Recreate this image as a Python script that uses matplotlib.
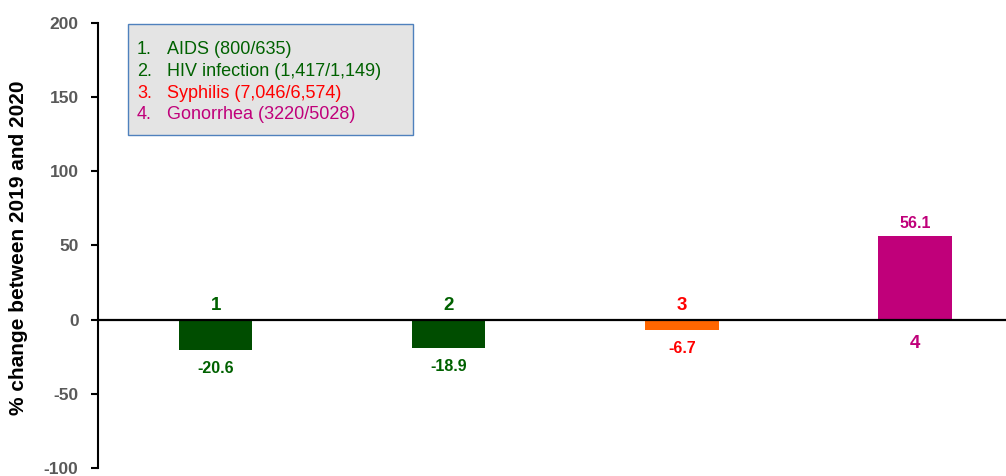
import matplotlib
matplotlib.use("Agg")
import matplotlib.pyplot as plt
from matplotlib.patches import Rectangle

plt.rcParams['font.family'] = ['Liberation Sans', 'DejaVu Sans']

categories = ["1", "2", "3", "4"]
values = [-20.6, -18.9, -6.7, 56.1]
value_labels = ["-20.6", "-18.9", "-6.7", "56.1"]
legend_lines = ["AIDS (800/635)", "HIV infection (1,417/1,149)",
                "Syphilis (7,046/6,574)", "Gonorrhea (3220/5028)"]
yticks = [-100, -50, 0, 50, 100, 150, 200]

bar_colors = ["#004D00", "#004D00", "#FF6600", "#C0007A"]
text_colors = ["#006100", "#006100", "#FF0000", "#C0007A"]

W, H = 1006, 476
fig = plt.figure(figsize=(W / 100, H / 100), dpi=100)
ax = fig.add_axes([0.0974, 0.0168, 0.9026, 0.9349])

x = list(range(len(categories)))
ax.bar(x, values, width=0.314, color=bar_colors, zorder=2)
ax.axhline(0, color="black", lw=1.6, zorder=3)

ax.set_xlim(-0.505, 3.39)
ax.set_ylim(-100, 200)
ax.set_yticks(yticks)
ax.set_yticklabels([str(t) for t in yticks], fontsize=12.5, fontweight="bold", color="#595959")
ax.tick_params(axis="y", direction="out", length=5, width=1.5, pad=9)
ax.set_xticks([])
for s in ["top", "right", "bottom"]:
    ax.spines[s].set_visible(False)
ax.spines["left"].set_linewidth(1.5)

ax.set_ylabel("% change between 2019 and 2020", fontsize=15, fontweight="bold")
ax.yaxis.set_label_coords((19 - 98) / (W * 0.9026), 0.495)
ax.yaxis.label.set_va("center")

for xi, v, lab, cat, tc in zip(x, values, value_labels, categories, text_colors):
    if v < 0:
        ax.annotate(cat, (xi, 0), xytext=(0, 4), textcoords="offset points",
                    ha="center", va="bottom", fontsize=13.5, fontweight="bold", color=tc)
        ax.annotate(lab, (xi, v), xytext=(0, -8), textcoords="offset points",
                    ha="center", va="top", fontsize=11.5, fontweight="bold", color=tc)
    else:
        ax.annotate(lab, (xi, v), xytext=(0, 4), textcoords="offset points",
                    ha="center", va="bottom", fontsize=11.5, fontweight="bold", color=tc)
        ax.annotate(cat, (xi, 0), xytext=(0, -11), textcoords="offset points",
                    ha="center", va="top", fontsize=13.5, fontweight="bold", color=tc)

# legend box
box = Rectangle((127.7 / W, 1 - 135 / H), (413 - 127.7) / W, (135 - 24) / H,
                transform=fig.transFigure, facecolor="#E4E4E4", edgecolor="#4F81BD",
                lw=1.0, zorder=5)
fig.patches.append(box)
line_y = [54, 76, 98, 119]
for i, (txt, yy, tc) in enumerate(zip(legend_lines, line_y, text_colors)):
    fig.text(137 / W, 1 - yy / H, f"{i+1}.", fontsize=13, color=tc, va="baseline", ha="left", zorder=6)
    fig.text(167 / W, 1 - yy / H, txt, fontsize=13, color=tc, va="baseline", ha="left", zorder=6)

fig.savefig("out.png", dpi=100)
